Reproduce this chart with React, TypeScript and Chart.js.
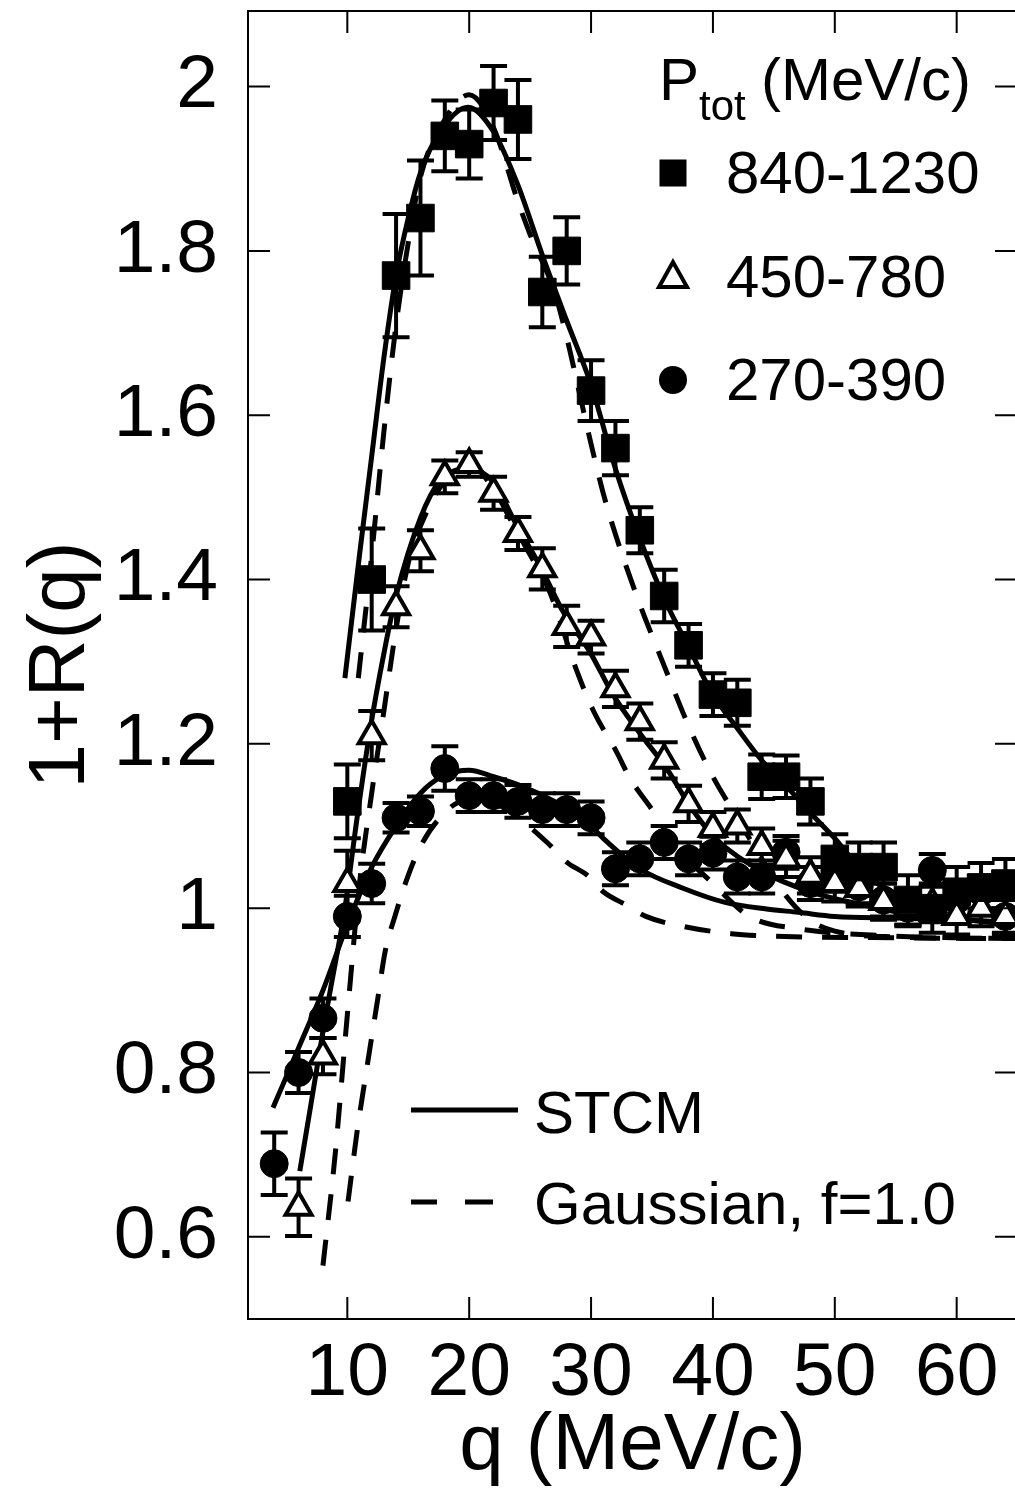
import React, { useEffect, useRef } from 'react';
import { Chart, registerables } from 'chart.js';
Chart.register(...registerables);

const FONT = '"Liberation Sans", Arial, Helvetica, sans-serif';

// axis ticks
const xTicks = [10, 20, 30, 40, 50, 60];
const yTicks = [0.6, 0.8, 1.0, 1.2, 1.4, 1.6, 1.8, 2.0];
const yTickLabels = ['0.6', '0.8', '1', '1.2', '1.4', '1.6', '1.8', '2'];

// legend labels
const seriesLabels = ['840-1230', '450-780', '270-390'];
const curveLabels = ['STCM', 'Gaussian, f=1.0'];

// P_tot 840-1230 (filled squares)
const qSq = [10, 12, 14, 16, 18, 20, 22, 24, 26, 28, 30, 32, 34, 36, 38, 40, 42, 44, 46, 48, 50, 52, 54, 56, 58, 60, 62, 64];
const vSq = [1.13, 1.40, 1.77, 1.84, 1.94, 1.93, 1.98, 1.96, 1.75, 1.80, 1.63, 1.56, 1.46, 1.38, 1.32, 1.26, 1.25, 1.16, 1.16, 1.13, 1.06, 1.05, 1.05, 1.01, 1.0, 1.02, 1.025, 1.03];
const eSq = [0.045, 0.062, 0.075, 0.07, 0.043, 0.042, 0.045, 0.048, 0.043, 0.041, 0.037, 0.033, 0.028, 0.032, 0.026, 0.026, 0.028, 0.027, 0.026, 0.028, 0.03, 0.03, 0.03, 0.03, 0.03, 0.03, 0.03, 0.03];

// P_tot 450-780 (open triangles)
const qTri = [6, 8, 10, 12, 14, 16, 18, 20, 22, 24, 26, 28, 30, 32, 34, 36, 38, 40, 42, 44, 46, 48, 50, 52, 54, 56, 58, 60, 62, 64];
const vTri = [0.636, 0.82, 1.03, 1.21, 1.367, 1.435, 1.525, 1.54, 1.505, 1.456, 1.413, 1.343, 1.33, 1.267, 1.227, 1.18, 1.127, 1.097, 1.10, 1.075, 1.06, 1.04, 1.03, 1.024, 1.008, 1.0, 1.005, 0.99, 1.0, 0.99];
const eTri = [0.035, 0.022, 0.04, 0.03, 0.025, 0.025, 0.02, 0.015, 0.02, 0.02, 0.025, 0.025, 0.02, 0.022, 0.022, 0.022, 0.022, 0.02, 0.02, 0.022, 0.022, 0.022, 0.022, 0.022, 0.022, 0.022, 0.022, 0.022, 0.022, 0.022];

// P_tot 270-390 (filled circles)
const qCir = [4, 6, 8, 10, 12, 14, 16, 18, 20, 22, 24, 26, 28, 30, 32, 34, 36, 38, 40, 42, 44, 46, 48, 50, 52, 54, 56, 58, 60, 62, 64];
const vCir = [0.689, 0.80, 0.866, 0.99, 1.03, 1.11, 1.118, 1.17, 1.137, 1.137, 1.13, 1.12, 1.12, 1.11, 1.048, 1.06, 1.08, 1.06, 1.067, 1.038, 1.038, 1.068, 1.03, 1.04, 1.026, 1.01, 1.0, 1.046, 1.01, 1.02, 0.99];
const eCir = [0.038, 0.025, 0.024, 0.025, 0.024, 0.018, 0.018, 0.027, 0.02, 0.02, 0.02, 0.02, 0.02, 0.02, 0.02, 0.02, 0.02, 0.02, 0.02, 0.02, 0.02, 0.02, 0.02, 0.02, 0.02, 0.02, 0.02, 0.02, 0.02, 0.02, 0.02];

// STCM curves (solid)
const qSqStcm = [9.8, 11, 12, 13, 14, 15, 16, 17.6, 19.9, 22, 24, 26, 28, 30, 32, 34, 36, 38, 40, 42, 44, 46, 48, 50, 52, 56, 60, 65];
const vSqStcm = [1.28, 1.43, 1.55, 1.67, 1.77, 1.84, 1.895, 1.945, 1.975, 1.945, 1.88, 1.795, 1.715, 1.637, 1.535, 1.45, 1.377, 1.318, 1.26, 1.219, 1.18, 1.149, 1.116, 1.085, 1.05, 1.005, 0.988, 0.98];
const qTriStcm = [6.1, 7, 8, 8.6, 9.8, 10.8, 11.9, 13, 14, 16, 17.6, 19.8, 21.9, 23.9, 25.8, 27.7, 29.9, 31.8, 34, 36.2, 38.1, 40, 44, 48, 52, 56, 60, 65];
const vTriStcm = [0.68, 0.76, 0.85, 0.90, 1.0, 1.11, 1.22, 1.31, 1.38, 1.475, 1.52, 1.535, 1.52, 1.466, 1.417, 1.361, 1.312, 1.26, 1.213, 1.17, 1.125, 1.088, 1.045, 1.02, 1.005, 0.993, 0.987, 0.981];
const qCirStcm = [3.9, 6, 8, 10, 12, 14, 16, 18, 20, 22, 24.4, 27, 29.4, 31, 34, 37.6, 41, 44.4, 47, 50, 55, 65];
const vCirStcm = [0.757, 0.83, 0.90, 0.98, 1.05, 1.10, 1.14, 1.162, 1.168, 1.16, 1.148, 1.13, 1.109, 1.085, 1.048, 1.024, 1.007, 0.999, 0.995, 0.99, 0.988, 0.983];

// Gaussian f=1.0 curves (dashed)
const qSqGau = [10.9, 12, 13, 14, 15, 16, 18, 20, 22, 24, 25, 27, 28, 29, 30, 31, 32, 34, 36, 38, 40, 42, 44, 46, 48, 50, 55, 65];
const vSqGau = [1.28, 1.43, 1.58, 1.71, 1.81, 1.89, 1.96, 1.99, 1.95, 1.86, 1.82, 1.75, 1.695, 1.63, 1.565, 1.505, 1.455, 1.37, 1.295, 1.222, 1.16, 1.11, 1.06, 1.015, 0.985, 0.972, 0.965, 0.963];
const qTriGau = [8.0, 9, 10, 11, 12, 13, 14, 15, 16, 18, 20, 22, 23.5, 25, 26.6, 28.8, 30.2, 32.1, 33.2, 35, 37, 40, 43, 47, 55, 65];
const vTriGau = [0.565, 0.70, 0.87, 1.03, 1.14, 1.24, 1.34, 1.42, 1.465, 1.52, 1.54, 1.51, 1.47, 1.43, 1.385, 1.29, 1.24, 1.19, 1.158, 1.12, 1.075, 1.03, 0.99, 0.975, 0.966, 0.963];
const qCirGau = [10.06, 10.8, 11.3, 11.85, 12.5, 13.1, 13.9, 15, 16, 17.6, 19.5, 21.5, 24, 26.4, 28, 29.7, 31, 33, 34.5, 37.5, 41.5, 45, 55, 65];
const vCirGau = [0.643, 0.728, 0.777, 0.829, 0.89, 0.947, 0.99, 1.04, 1.075, 1.11, 1.13, 1.13, 1.11, 1.08, 1.056, 1.04, 1.02, 1.003, 0.99, 0.978, 0.969, 0.966, 0.964, 0.963];

const pts = (qs: number[], vs: number[]) => qs.map((q, i) => ({ x: q, y: vs[i] }));

const errorSets = [
  { q: qSq, v: vSq, e: eSq },
  { q: qTri, v: vTri, e: eTri },
  { q: qCir, v: vCir, e: eCir },
];

const decorPlugin = {
  id: 'decor',
  beforeDatasetsDraw(chart: any) {
    const { ctx, chartArea: a, scales } = chart;
    const x = scales.x, y = scales.y;
    ctx.save();
    ctx.beginPath();
    ctx.rect(a.left, a.top, a.right - a.left, a.bottom - a.top);
    ctx.clip();
    ctx.strokeStyle = '#000';
    ctx.lineWidth = 4;
    ctx.lineCap = 'butt';
    const cap = 13.5;
    errorSets.forEach((s) => {
      s.q.forEach((q, i) => {
        const px = x.getPixelForValue(q);
        const y1 = y.getPixelForValue(s.v[i] + s.e[i]);
        const y2 = y.getPixelForValue(s.v[i] - s.e[i]);
        ctx.beginPath();
        ctx.moveTo(px, y1);
        ctx.lineTo(px, y2);
        ctx.moveTo(px - cap, y1);
        ctx.lineTo(px + cap, y1);
        ctx.moveTo(px - cap, y2);
        ctx.lineTo(px + cap, y2);
        ctx.stroke();
      });
    });
    ctx.restore();
  },
  afterDraw(chart: any) {
    const { ctx, chartArea: a, scales } = chart;
    const x = scales.x, y = scales.y;
    ctx.save();
    ctx.strokeStyle = '#000';
    ctx.fillStyle = '#000';
    ctx.lineWidth = 2;
    ctx.strokeRect(a.left, a.top, a.right - a.left, a.bottom - a.top);
    const tl = 22;
    ctx.beginPath();
    xTicks.forEach((t) => {
      const px = x.getPixelForValue(t);
      ctx.moveTo(px, a.bottom);
      ctx.lineTo(px, a.bottom - tl);
      ctx.moveTo(px, a.top);
      ctx.lineTo(px, a.top + tl);
    });
    yTicks.forEach((t) => {
      const py = y.getPixelForValue(t);
      ctx.moveTo(a.left, py);
      ctx.lineTo(a.left + tl, py);
      ctx.moveTo(a.right, py);
      ctx.lineTo(a.right - tl, py);
    });
    ctx.stroke();

    // legend: P_tot (MeV/c)
    ctx.textBaseline = 'alphabetic';
    ctx.textAlign = 'left';
    ctx.font = `60px ${FONT}`;
    ctx.fillText('P', 659, 100);
    ctx.font = `42px ${FONT}`;
    ctx.fillText('tot', 699, 120);
    ctx.font = `60px ${FONT}`;
    ctx.fillText('(MeV/c)', 761, 100);

    const mx = 673;
    // square
    ctx.fillRect(mx - 13.5, 173 - 13.5, 27, 27);
    ctx.fillText(seriesLabels[0], 726, 193);
    // triangle
    ctx.lineWidth = 4;
    ctx.fillStyle = '#fff';
    ctx.beginPath();
    ctx.moveTo(mx, 262);
    ctx.lineTo(mx - 14, 287);
    ctx.lineTo(mx + 14, 287);
    ctx.closePath();
    ctx.fill();
    ctx.stroke();
    ctx.fillStyle = '#000';
    ctx.fillText(seriesLabels[1], 726, 297);
    // circle
    ctx.beginPath();
    ctx.arc(mx, 380, 14, 0, Math.PI * 2);
    ctx.fill();
    ctx.fillText(seriesLabels[2], 726, 400);

    // line legend
    ctx.lineWidth = 5;
    ctx.beginPath();
    ctx.moveTo(411, 1110);
    ctx.lineTo(518, 1110);
    ctx.stroke();
    ctx.fillText(curveLabels[0], 534, 1133);
    ctx.beginPath();
    ctx.moveTo(411, 1202);
    ctx.lineTo(437, 1202);
    ctx.moveTo(465, 1202);
    ctx.lineTo(493, 1202);
    ctx.stroke();
    ctx.fillText(curveLabels[1], 534, 1224);
    ctx.restore();
  },
};

const curve = (qs: number[], vs: number[], dashed: boolean) => ({
  data: pts(qs, vs),
  showLine: true,
  pointRadius: 0,
  borderColor: '#000',
  borderWidth: 5,
  borderDash: dashed ? [26, 20] : [],
  cubicInterpolationMode: 'monotone',
  fill: false,
  order: 2,
});

export default function App() {
  const ref = useRef<HTMLCanvasElement>(null);
  useEffect(() => {
    const canvas = ref.current;
    if (!canvas) return;
    const chart = new Chart(canvas, {
      type: 'scatter',
      data: {
        datasets: [
          {
            label: seriesLabels[0],
            data: pts(qSq, vSq),
            pointStyle: 'rect',
            pointRadius: 19.5,
            backgroundColor: '#000',
            borderColor: '#000',
            borderWidth: 1,
            order: 0,
          },
          {
            label: seriesLabels[1],
            data: pts(qTri, vTri),
            pointStyle: 'triangle',
            pointRadius: 15,
            backgroundColor: '#fff',
            borderColor: '#000',
            borderWidth: 4,
            order: 0,
          },
          {
            label: seriesLabels[2],
            data: pts(qCir, vCir),
            pointStyle: 'circle',
            pointRadius: 14,
            backgroundColor: '#000',
            borderColor: '#000',
            borderWidth: 1,
            order: 0,
          },
          { label: 'STCM 840-1230', ...curve(qSqStcm, vSqStcm, false) },
          { label: 'STCM 450-780', ...curve(qTriStcm, vTriStcm, false) },
          { label: 'STCM 270-390', ...curve(qCirStcm, vCirStcm, false) },
          { label: 'Gauss 840-1230', ...curve(qSqGau, vSqGau, true) },
          { label: 'Gauss 450-780', ...curve(qTriGau, vTriGau, true) },
          { label: 'Gauss 270-390', ...curve(qCirGau, vCirGau, true) },
        ] as any,
      },
      options: {
        responsive: false,
        maintainAspectRatio: false,
        devicePixelRatio: 1,
        animation: false,
        layout: { autoPadding: false, padding: { left: 0, top: 11, right: 13, bottom: 0 } },
        plugins: { legend: { display: false }, tooltip: { enabled: false } },
        scales: {
          x: {
            type: 'linear',
            min: 1.85,
            max: 64.95,
            afterBuildTicks: (s: any) => {
              s.ticks = xTicks.map((v) => ({ value: v }));
            },
            afterFit: (s: any) => {
              s.height = 179;
              s.paddingLeft = 0;
              s.paddingRight = 0;
            },
            grid: { display: false, drawTicks: true, tickLength: 10 },
            border: { display: false },
            ticks: {
              padding: 0,
              color: '#000',
              autoSkip: false,
              maxRotation: 0,
              font: { family: FONT, size: 75, lineHeight: 1.2 },
              callback: (v: any) => String(v),
            },
            title: {
              display: true,
              text: 'q (MeV/c)',
              color: '#000',
              font: { family: FONT, size: 80, lineHeight: 1 },
              padding: { top: 0, bottom: 11 },
            },
          },
          y: {
            type: 'linear',
            min: 0.5,
            max: 2.092,
            afterBuildTicks: (s: any) => {
              s.ticks = yTicks.map((v) => ({ value: v }));
            },
            afterFit: (s: any) => {
              s.width = 248;
              s.paddingTop = 0;
              s.paddingBottom = 0;
            },
            grid: { display: false, drawTicks: true, tickLength: 30 },
            border: { display: false },
            ticks: {
              padding: 0,
              color: '#000',
              autoSkip: false,
              font: { family: FONT, size: 75, lineHeight: 0.1 },
              callback: (v: any) => {
                const i = yTicks.findIndex((t) => Math.abs(t - v) < 1e-6);
                return i >= 0 ? yTickLabels[i] : '';
              },
            },
            title: {
              display: true,
              text: '1+R(q)',
              color: '#000',
              font: { family: FONT, size: 80, lineHeight: 1 },
              padding: { top: 22, bottom: 0 },
            },
          },
        },
      } as any,
      plugins: [decorPlugin],
    });
    return () => chart.destroy();
  }, []);
  return (
    <div style={{ position: 'fixed', left: 0, top: 0, width: 1015, height: 1498, overflow: 'hidden', background: '#fff' }}>
      <canvas ref={ref} width={1030} height={1498} style={{ display: 'block', width: 1030, height: 1498 }} />
    </div>
  );
}
